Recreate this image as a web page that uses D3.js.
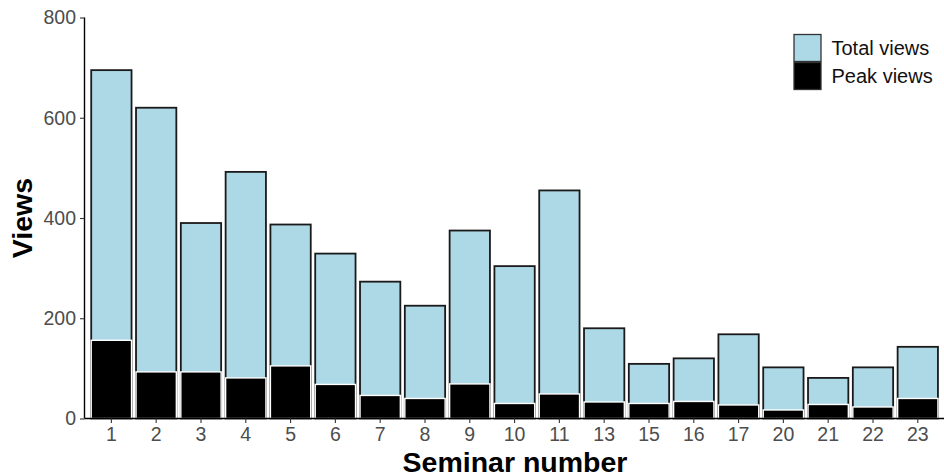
<!DOCTYPE html>
<html>
<head>
<meta charset="utf-8">
<script src="https://cdn.jsdelivr.net/npm/d3@7"></script>
<style>
  body { margin: 0; background: #fff; }
  svg { display: block; font-family: "Liberation Sans", Arial, sans-serif; }
</style>
</head>
<body>
<div class="chart"></div>
<script>
const seminars = ["1", "2", "3", "4", "5", "6", "7", "8", "9", "10", "11", "13", "15", "16", "17", "20", "21", "22", "23"];
const totalViews = [695, 620, 390, 492, 387, 329, 273, 225, 375, 304, 455, 180, 109, 120, 168, 102, 81, 102, 143];
const peakViews = [156, 93, 93, 81, 105, 68, 46, 40, 69, 30, 49, 33, 30, 34, 27, 17, 28, 23, 40];
const yTicks = [0, 200, 400, 600, 800];
const legendLabels = ["Total views", "Peak views"];

const width = 944;
const height = 475;
const margin = { top: 17.5, right: 0, bottom: 56.5, left: 84.5 };

const dataset = seminars.map((s, i) => ({ seminar: s, total: totalViews[i], peak: peakViews[i] }));

const svg = d3.select(".chart")
  .append("svg")
  .attr("width", width)
  .attr("height", height);

const x = d3.scaleBand()
  .domain(seminars)
  .range([margin.left, margin.left + 19.2 * 44.8])
  .paddingInner(0.1)
  .paddingOuter(0.15);

const y = d3.scaleLinear()
  .domain([0, 800])
  .range([height - margin.bottom, margin.top]);

// total views bars
svg.append("g")
  .selectAll("rect")
  .data(dataset)
  .enter()
  .append("rect")
  .attr("x", (d) => x(d.seminar))
  .attr("y", (d) => y(d.total))
  .attr("width", x.bandwidth())
  .attr("height", (d) => y(0) - y(d.total))
  .attr("fill", "#add8e6")
  .attr("stroke", "#1a1a1a")
  .attr("stroke-width", 1.8);

// peak views bars on top
svg.append("g")
  .selectAll("rect")
  .data(dataset)
  .enter()
  .append("rect")
  .attr("x", (d) => x(d.seminar))
  .attr("y", (d) => y(d.peak))
  .attr("width", x.bandwidth())
  .attr("height", (d) => y(0) - y(d.peak))
  .attr("fill", "#000")
  .attr("stroke", "#fff")
  .attr("stroke-width", 1.4);

const xAxis = d3.axisBottom(x).tickSizeOuter(0).tickSize(4.5).tickPadding(4.5);
const yAxis = d3.axisLeft(y).tickValues(yTicks).tickSizeOuter(0).tickSize(4.5).tickPadding(4);

const gx = svg.append("g")
  .attr("transform", "translate(0," + y(0) + ")")
  .call(xAxis);

const gy = svg.append("g")
  .attr("transform", "translate(" + margin.left + ",0)")
  .call(yAxis);

[gx, gy].forEach((g) => {
  g.select(".domain").attr("stroke", "#000").attr("stroke-width", 1.4);
  g.selectAll(".tick line").attr("stroke", "#333").attr("stroke-width", 1.1);
  g.selectAll(".tick text")
    .attr("fill", "#4d4d4d")
    .style("font-size", "19.5px")
    .style("font-family", "'Liberation Sans', Arial, sans-serif");
});
gx.select(".domain").attr("d", "M" + margin.left + ",0H" + width);
gy.select(".domain").attr("d", "M0," + y(800) + "V" + y(0));

// axis titles
svg.append("text")
  .attr("transform", "translate(32,218) rotate(-90)")
  .attr("text-anchor", "middle")
  .style("font-size", "28.5px")
  .style("font-weight", "bold")
  .attr("fill", "#000")
  .text("Views");

svg.append("text")
  .attr("x", 515)
  .attr("y", 471.5)
  .attr("text-anchor", "middle")
  .style("font-size", "28.5px")
  .style("font-weight", "bold")
  .attr("fill", "#000")
  .text("Seminar number");

// legend
const legend = svg.append("g")
  .attr("transform", "translate(794,34.5)");

const legendFill = ["#add8e6", "#000"];

legend.selectAll("rect")
  .data(legendLabels)
  .enter()
  .append("rect")
  .attr("x", 0)
  .attr("y", (d, i) => i * 28)
  .attr("width", 27)
  .attr("height", 27)
  .attr("fill", (d, i) => legendFill[i])
  .attr("stroke", "#333")
  .attr("stroke-width", 1.3);

legend.selectAll("text")
  .data(legendLabels)
  .enter()
  .append("text")
  .attr("x", 37.5)
  .attr("y", (d, i) => i * 28 + 20.5)
  .style("font-size", "20px")
  .attr("fill", "#111")
  .text((d) => d);
</script>
</body>
</html>
